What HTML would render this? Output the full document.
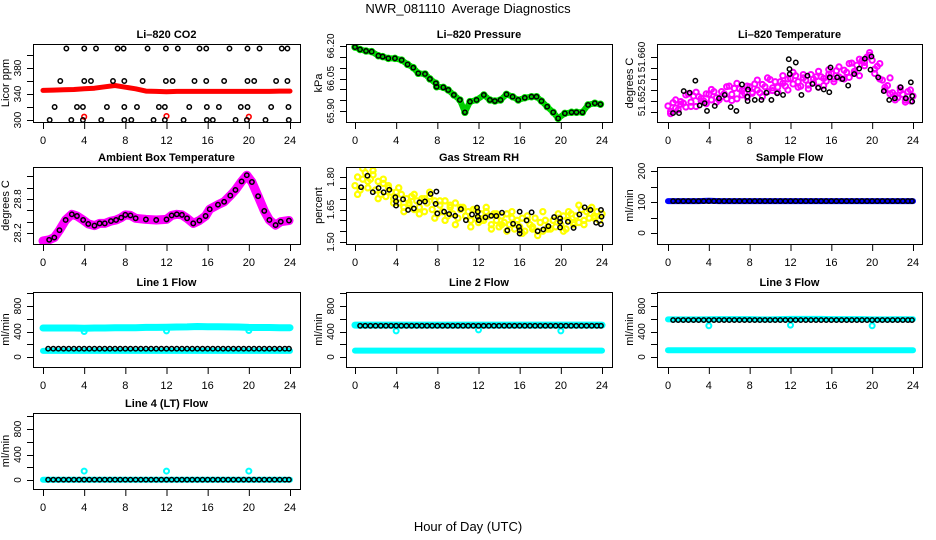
<!DOCTYPE html>
<html><head><meta charset="utf-8"><style>
html,body{margin:0;padding:0;background:#fff;}
svg{display:block;font-family:"Liberation Sans",Arial,sans-serif;}
</style></head><body>
<svg id="chart" width="936" height="540" viewBox="0 0 936 540" xmlns="http://www.w3.org/2000/svg">
<rect x="0" y="0" width="936" height="540" fill="#fff"/>
<text x="468" y="13" font-size="13" text-anchor="middle" style="white-space:pre">NWR_081110  Average Diagnostics</text>
<text x="468" y="531" font-size="13" text-anchor="middle">Hour of Day (UTC)</text>
</svg>
<script>
// ---------- data ----------
const xTicks = [0,4,8,12,16,20,24];

const co2TopHours = [2.27,4.01,5.15,7.25,7.83,10.16,11.94,13.1,15.21,15.86,18.12,19.87,21.04,23.2,23.75];
const co2TopVals = [410,410,410,410,410,410,410,410,410,410,410,410,410,410,410];
const co2MidHours = [1.68,4.01,4.66,6.8,7.9,9.68,11.94,12.59,14.72,15.86,17.6,19.87,20.52,22.65,23.75];
const co2MidVals = [360,360,360,360,360,360,360,360,360,360,360,360,360,360,360];
const co2LowHours = [1.13,3.3,3.88,6.21,7.9,9.13,11.26,11.84,14.21,15.92,17.09,19.22,19.87,22.17,23.85];
const co2LowVals = [320,320,320,320,320,320,320,320,320,320,320,320,320,320,320];
const co2BotHours = [0.65,2.75,3.88,5.66,7.9,8.58,10.74,11.84,13.66,15.92,16.5,18.71,19.81,21.62,23.88];
const co2BotVals = [300,300,300,300,300,300,300,300,300,300,300,300,300,300,300];
const co2RedHours = [0,1,2,3,4,5,6,7,8,9,10,11,12,13,14,15,16,17,18,19,20,21,22,23,24];
const co2RedVals = [345.5,346,346.5,347,348,349,351,353,350.5,348,344.5,344,343.5,344,344,344,344,344,344,344,344,344,344,344.5,344.5];
const co2RedDipHours = [4,12,20];
const co2RedDipVals = [305,306,305];

const presHours = [0,0.49,1.07,1.62,2.27,2.69,3.24,3.88,4.53,5.11,5.66,6.15,6.8,7.28,7.86,7.93,8.58,9.06,9.61,10.19,10.68,11.17,11.81,12.52,13.11,13.59,14.14,14.72,15.31,15.86,16.5,17.15,17.64,18.12,18.67,19.26,19.74,20.39,21.04,21.52,22.1,22.65,23.3,23.85];
const presVals = [66.195,66.184,66.177,66.174,66.155,66.151,66.143,66.143,66.135,66.115,66.100,66.074,66.071,66.048,66.028,66.012,66.009,65.997,65.974,65.951,65.894,65.943,65.951,65.974,65.951,65.946,65.951,65.977,65.966,65.951,65.961,65.966,65.966,65.946,65.920,65.894,65.866,65.889,65.894,65.894,65.894,65.928,65.936,65.931];

const tempMagHoursA = [0,0.25,0.5,0.75,1,1.25,1.5,1.75,2,2.25,2.5,2.75,3,3.25,3.5,3.75,4,4.25,4.5,4.75,5,5.25,5.5,5.75,6,6.25,6.5,6.75,7,7.25,7.5,7.75,8,8.25,8.5,8.75,9,9.25,9.5,9.75,10,10.25,10.5,10.75,11,11.25,11.5,11.75,12,12.25,12.5,12.75,13,13.25,13.5,13.75,14,14.25,14.5,14.75,15,15.25,15.5,15.75,16,16.25,16.5,16.75,17,17.25,17.5,17.75,18,18.25,18.5,18.75,19,19.25,19.5,19.75,20,20.25,20.5,20.75,21,21.25,21.5,21.75,22,22.25,22.5,22.75,23,23.25,23.5,23.75,24];
const tempMagValsA = [51.6511,51.6501,51.6517,51.6507,51.6504,51.6519,51.6516,51.6509,51.6533,51.6518,51.6529,51.6510,51.6528,51.6525,51.6520,51.6533,51.6532,51.6522,51.6537,51.6526,51.6522,51.6537,51.6533,51.6524,51.6547,51.6532,51.6543,51.6524,51.6542,51.6539,51.6534,51.6547,51.6546,51.6536,51.6551,51.6540,51.6535,51.6550,51.6546,51.6537,51.6559,51.6544,51.6555,51.6536,51.6555,51.6552,51.6547,51.6560,51.6561,51.6551,51.6566,51.6555,51.6547,51.6562,51.6558,51.6549,51.6568,51.6553,51.6564,51.6545,51.6564,51.6561,51.6556,51.6569,51.6570,51.6560,51.6575,51.6564,51.6561,51.6576,51.6572,51.6563,51.6589,51.6574,51.6585,51.6566,51.6593,51.6590,51.6600,51.6603,51.6594,51.6578,51.6583,51.6560,51.6558,51.6540,51.6548,51.6533,51.6535,51.6530,51.6526,51.6539,51.6532,51.6522,51.6537,51.6520,51.6529];
const tempMagHoursB = [0.25,0.75,1.25,1.75,2.25,2.75,3.25,3.75,4.25,4.75,5.25,5.75,6.25,6.75,7.25,7.75,8.25,8.75,9.25,9.75,10.25,10.75,11.25,11.75,12.25,12.75,13.25,13.75,14.25,14.75,15.25,15.75,16.25,16.75,17.25,17.75,18.25,18.75,19.25,19.75,20.25,20.75,21.25,21.75,22.25,22.75,23.25,23.75];
const tempMagValsB = [51.6497,51.6522,51.6514,51.6531,51.6510,51.6536,51.6520,51.6515,51.6541,51.6518,51.6528,51.6546,51.6521,51.6552,51.6531,51.6527,51.6534,51.6558,51.6528,51.6562,51.6539,51.6545,51.6566,51.6540,51.6572,51.6545,51.6568,51.6542,51.6560,51.6574,51.6548,51.6577,51.6555,51.6582,51.6560,51.6588,51.6570,51.6596,51.6584,51.6608,51.6570,51.6588,51.6545,51.6562,51.6522,51.6544,51.6518,51.6540];
const tempBlackHours = [0.49,1.08,1.54,2.12,2.68,3.10,3.59,3.82,4.58,5.0,5.56,6.14,6.7,7.25,7.84,7.78,7.8,8.5,9.15,9.64,10.13,10.69,11.27,11.83,11.9,11.93,12.52,13.07,13.66,14.15,14.71,15.26,15.85,15.92,15.8,16.57,17.09,17.65,18.24,18.73,19.28,19.84,19.93,20.59,21.14,21.67,22.22,22.78,23.3,23.79,23.92,23.92];
const tempBlackVals = [51.6498,51.6498,51.6538,51.6535,51.6557,51.6512,51.6516,51.6502,51.6511,51.6525,51.6531,51.6509,51.6502,51.6550,51.6541,51.6528,51.6520,51.6522,51.6522,51.6535,51.6522,51.6534,51.6531,51.6596,51.6578,51.6569,51.6590,51.6531,51.6566,51.6551,51.6544,51.6541,51.6563,51.6581,51.6536,51.6563,51.6560,51.6548,51.6569,51.6579,51.6597,51.6577,51.6601,51.6563,51.6538,51.6522,51.6525,51.6545,51.6525,51.6554,51.6529,51.6519];

const ambHours = [0,0.6,1.1,1.6,2.2,2.8,3.3,3.9,4.4,5.0,5.5,6.0,6.6,7.1,7.6,8.0,8.5,9,10,11,12,12.5,13,13.5,14,14.6,15.2,15.8,16.2,17,17.6,18.2,18.7,19.3,19.8,20.3,20.9,21.5,22,22.6,23.1,23.9];
const ambVals = [28.06,28.08,28.12,28.25,28.43,28.53,28.5,28.43,28.36,28.33,28.37,28.37,28.41,28.43,28.47,28.52,28.51,28.46,28.44,28.43,28.44,28.51,28.53,28.52,28.46,28.37,28.42,28.5,28.62,28.7,28.75,28.86,28.96,29.11,29.22,29.1,28.85,28.59,28.43,28.34,28.4,28.42];

const rhYelHoursA = tempMagHoursA;
const rhYelValsA = [1.76,1.80,1.74,1.79,1.82,1.75,1.79,1.81,1.74,1.78,1.72,1.77,1.71,1.76,1.73,1.70,1.73,1.68,1.72,1.66,1.70,1.67,1.71,1.65,1.69,1.66,1.70,1.64,1.68,1.71,1.65,1.69,1.63,1.67,1.64,1.69,1.62,1.66,1.63,1.68,1.61,1.65,1.66,1.62,1.64,1.60,1.65,1.61,1.59,1.63,1.60,1.64,1.62,1.58,1.63,1.60,1.57,1.62,1.59,1.63,1.58,1.61,1.56,1.60,1.57,1.61,1.55,1.60,1.58,1.56,1.61,1.55,1.59,1.55,1.60,1.57,1.56,1.60,1.57,1.61,1.58,1.62,1.56,1.60,1.63,1.58,1.62,1.59,1.65,1.60,1.64,1.61,1.66,1.61,1.64,1.60,1.63];
const rhYelHoursB = tempMagHoursB;
const rhYelValsB = [1.72,1.84,1.78,1.83,1.70,1.79,1.75,1.68,1.75,1.64,1.68,1.72,1.63,1.70,1.73,1.61,1.69,1.60,1.67,1.58,1.66,1.62,1.57,1.65,1.60,1.66,1.56,1.63,1.58,1.55,1.64,1.58,1.54,1.62,1.57,1.53,1.64,1.56,1.60,1.63,1.55,1.64,1.59,1.67,1.58,1.65,1.62,1.60];
const rhBlackHours = [0.59,1.21,1.73,2.29,2.78,3.33,3.92,3.99,3.99,4.67,5.16,5.72,6.27,6.8,7.35,7.91,7.84,8.0,8.66,9.15,9.74,10.29,10.78,11.37,11.86,11.93,11.93,12.03,12.68,13.24,13.73,14.28,14.8,15.36,15.92,16.0,16.0,16.0,16.67,17.16,17.75,18.3,18.79,19.35,19.93,19.93,19.93,20.69,21.24,21.8,22.32,22.88,23.43,23.9,23.9,23.95];
const rhBlackVals = [1.753,1.806,1.730,1.749,1.729,1.741,1.707,1.687,1.668,1.697,1.648,1.655,1.683,1.687,1.722,1.733,1.676,1.632,1.640,1.629,1.621,1.652,1.601,1.627,1.659,1.640,1.617,1.601,1.614,1.621,1.620,1.635,1.554,1.584,1.570,1.554,1.539,1.640,1.600,1.637,1.550,1.558,1.573,1.615,1.609,1.593,1.567,1.593,1.565,1.627,1.660,1.648,1.589,1.648,1.582,1.617];

const bandHours = [0,1,2,3,4,5,6,7,8,9,10,11,12,13,14,15,16,17,18,19,20,21,22,23,24];
const sampleBlue = [103,103,103,103,104,103,103,103,103,103,103,103,103,103,103,103,103,103,103,103,103,103,103,103,103];
const flowHours = [0.5,1,1.5,2,2.5,3,3.5,4,4.5,5,5.5,6,6.5,7,7.5,8,8.5,9,9.5,10,10.5,11,11.5,12,12.5,13,13.5,14,14.5,15,15.5,16,16.5,17,17.5,18,18.5,19,19.5,20,20.5,21,21.5,22,22.5,23,23.5,23.9];
const sampleBlack = [103,103,103,103,103,103,103,103,103,103,103,103,103,103,103,103,103,103,103,103,103,103,103,103,103,103,103,103,103,103,103,103,103,103,103,103,103,103,103,103,103,103,103,103,103,103,103,103];

const line1Upper = [455,455,455,455,452,455,455,458,458,460,465,465,468,470,472,478,475,475,472,470,465,463,462,460,460];
const line1Lower = [95,95,95,95,95,95,95,95,95,95,95,95,95,95,95,95,95,95,95,95,95,95,95,95,95];
const line1Black = [130,130,130,130,130,130,130,130,130,130,130,130,130,130,130,130,130,130,130,130,130,130,130,130,130,130,130,130,130,130,130,130,130,130,130,130,130,130,130,130,130,130,130,130,130,130,130,130];
const dipHours = [4,12,20];
const line1Dips = [400,410,415];

const line2Upper = [500,500,500,500,500,500,500,500,500,500,500,500,500,500,500,500,500,500,500,500,500,500,500,500,500];
const line2Lower = [100,100,100,100,100,100,100,100,100,100,100,100,100,100,100,100,100,100,100,100,100,100,100,100,100];
const line2Black = [490,490,490,490,490,490,490,490,490,490,490,490,490,490,490,490,490,490,490,490,490,490,490,490,490,490,490,490,490,490,490,490,490,490,490,490,490,490,490,490,490,490,490,490,490,490,490,490];
const line2Dips = [410,425,410];

const line3Upper = [590,590,590,590,592,595,595,595,595,590,590,595,598,598,598,598,595,595,595,595,590,590,592,592,592];
const line3Lower = [105,105,105,105,105,105,105,105,105,105,105,105,105,105,105,105,105,105,105,105,105,105,105,105,105];
const line3Black = [580,580,580,580,580,580,580,580,580,580,580,580,580,580,580,580,580,580,580,580,580,580,580,580,580,580,580,580,580,580,580,580,580,580,580,580,580,580,580,580,580,580,580,580,580,580,580,580];
const line3Dips = [490,500,490];

const line4Cyan = [5,5,5,5,5,5,5,5,5,5,5,5,5,5,5,5,5,5,5,5,5,5,5,5,5];
const line4Black = [5,5,5,5,5,5,5,5,5,5,5,5,5,5,5,5,5,5,5,5,5,5,5,5,5,5,5,5,5,5,5,5,5,5,5,5,5,5,5,5,5,5,5,5,5,5,5,5];
const line4Dips = [140,140,140];

const co2Ticks = [300,320,340,360,380,400];
const co2Labels = ["300","","340","","380",""];
const presTicks = [65.90,65.95,66.00,66.05,66.10,66.15,66.20];
const presLabels = ["65.90","","","66.05","","","66.20"];
const tempTicks = [51.650,51.652,51.654,51.656,51.658,51.660];
const tempLabels = ["","51.652","","51","","51.660"];
const ambTicks = [28.2,28.4,28.6,28.8,29.0,29.2];
const ambLabels = ["28.2","","","28.8","",""];
const rhTicks = [1.50,1.55,1.60,1.65,1.70,1.75,1.80];
const rhLabels = ["1.50","","","1.65","","","1.80"];
const sampleTicks = [0,50,100,150,200];
const sampleLabels = ["0","","100","","200"];
const flowTicks = [0,200,400,600,800,1000];
const flowLabels = ["0","","400","","800",""];

// ---------- layout ----------
const svg = document.getElementById('chart');
const NS = 'http://www.w3.org/2000/svg';
const cols = [{l:33,r:300,x0:43,x24:290},{l:346,r:612,x0:355,x24:602},{l:657,r:922,x0:668,x24:913}];
const rows = [{t:44,b:122},{t:167,b:244},{t:292,b:367},{t:413,b:489}];

function mk(tag, attrs, parent){
  const e = document.createElementNS(NS, tag);
  for (const k in attrs) e.setAttribute(k, attrs[k]);
  (parent||svg).appendChild(e);
  return e;
}

function panel(name, title, ytitle, ci, ri, v1, p1, v2, p2, ticks, labels){
  const c = cols[ci], r = rows[ri];
  const g = mk('g', {});
  
  
  const clip = mk('clipPath', {id:'clip-'+name}, g);
  mk('rect', {x:c.l, y:r.t, width:c.r-c.l, height:r.b-r.t}, clip);
  const P = {g:g, c:c, r:r,
    x: h => c.x0 + (c.x24 - c.x0) * h / 24,
    y: v => p1 + (v - v1) * (p2 - p1) / (v2 - v1)};
  P.plot = mk('g', {'clip-path':'url(#clip-'+name+')'}, g);
  const box = mk('rect', {x:c.l+0.5, y:r.t+0.5, width:c.r-c.l, height:r.b-r.t, fill:'none', stroke:'#000', 'stroke-width':1}, g);
  
  
  const tt = mk('text', {x:(c.l+c.r)/2, y:r.t-6, 'font-size':11, 'font-weight':'bold', 'text-anchor':'middle'}, g);
  tt.textContent = title;
  
  
  const xa = mk('g', {}, g);
  
  
  mk('line', {x1:P.x(0), x2:P.x(24), y1:r.b+0.5, y2:r.b+0.5, stroke:'#000'}, xa);
  xTicks.forEach(t => {
    mk('line', {x1:P.x(t)+0.5, x2:P.x(t)+0.5, y1:r.b, y2:r.b+7, stroke:'#000'}, xa);
    const lt = mk('text', {x:P.x(t), y:r.b+22, 'font-size':11, 'text-anchor':'middle'}, xa);
    lt.textContent = t;
  });
  const ya = mk('g', {}, g);
  
  
  mk('line', {x1:c.l+0.5, x2:c.l+0.5, y1:P.y(ticks[0]), y2:P.y(ticks[ticks.length-1]), stroke:'#000'}, ya);
  ticks.forEach((t,i) => {
    const yy = Math.round(P.y(t))+0.5;
    mk('line', {x1:c.l-6, x2:c.l, y1:yy, y2:yy, stroke:'#000'}, ya);
    if (labels[i]) {
      const lx = c.l-12, ly = P.y(t);
      const lt = mk('text', {x:lx, y:ly, 'font-size':10, 'text-anchor':'middle', transform:'rotate(-90 '+lx+' '+ly+')'}, ya);
      lt.textContent = labels[i];
    }
  });
  const tx = c.l-24, ty = (r.t+r.b)/2;
  const yt = mk('text', {x:tx, y:ty, 'font-size':11, 'text-anchor':'middle', transform:'rotate(-90 '+tx+' '+ty+')'}, g);
  yt.textContent = ytitle;
  
  
  return P;
}

function pts(P, name, hours, vals, color, rad, sw){
  const g = mk('g', {fill:'none', stroke:color, 'stroke-width':sw}, P.plot);
  
  
  hours.forEach((h,i) => {
    const c = mk('circle', {cx:P.x(h), cy:P.y(vals[i]), r:rad}, g);
    
    
  });
}
function band(P, name, hours, vals, color, w){
  const d = hours.map((h,i) => (i?'L':'M')+P.x(h).toFixed(1)+','+P.y(vals[i]).toFixed(1)).join(' ');
  const p = mk('path', {d:d, fill:'none', stroke:color, 'stroke-width':w, 'stroke-linecap':'round', 'stroke-linejoin':'round'}, P.plot);
  
  
}

let P = panel('co2-panel','Li\u2013820 CO2','Licor ppm',0,0,300,120,380,68,co2Ticks,co2Labels);
band(P,'co2-red-band',co2RedHours,co2RedVals,'#ff0000',5);
pts(P,'co2-red-dips',co2RedDipHours,co2RedDipVals,'#ff0000',2.3,1.6);
pts(P,'co2-black-410',co2TopHours,co2TopVals,'#000',2.2,1.5);
pts(P,'co2-black-360',co2MidHours,co2MidVals,'#000',2.2,1.5);
pts(P,'co2-black-320',co2LowHours,co2LowVals,'#000',2.2,1.5);
pts(P,'co2-black-300',co2BotHours,co2BotVals,'#000',2.2,1.5);

P = panel('pressure-panel','Li\u2013820 Pressure','kPa',1,0,65.90,111,66.20,46,presTicks,presLabels);
band(P,'pressure-green-band',presHours,presVals,'#00cc00',6);
pts(P,'pressure-green-points',presHours,presVals,'#00ee00',3,1.5);
pts(P,'pressure-black-points',presHours,presVals,'#000',2.2,1.5);

P = panel('temperature-panel','Li\u2013820 Temperature','degrees C',2,0,51.652,101,51.660,57,tempTicks,tempLabels);
pts(P,'temperature-magenta-a',tempMagHoursA,tempMagValsA,'#ff00ff',2.6,2);
pts(P,'temperature-magenta-b',tempMagHoursB,tempMagValsB,'#ff00ff',2.6,2);
pts(P,'temperature-black',tempBlackHours,tempBlackVals,'#000',2.2,1.5);

P = panel('ambient-panel','Ambient Box Temperature','degrees C',0,1,28.2,233,28.8,199,ambTicks,ambLabels);
band(P,'ambient-magenta-band',ambHours,ambVals,'#ff00ff',9);
pts(P,'ambient-black',ambHours.slice(1),ambVals.slice(1),'#000',2.2,1.5);

P = panel('rh-panel','Gas Stream RH','percent',1,1,1.50,242,1.80,177,rhTicks,rhLabels);
pts(P,'rh-yellow-a',rhYelHoursA,rhYelValsA,'#ffff00',2.6,2.2);
pts(P,'rh-yellow-b',rhYelHoursB,rhYelValsB,'#ffff00',2.6,2.2);
pts(P,'rh-black',rhBlackHours,rhBlackVals,'#000',2.2,1.5);

P = panel('sample-flow-panel','Sample Flow','ml/min',2,1,0,233,200,171,sampleTicks,sampleLabels);
band(P,'sample-blue-band',bandHours,sampleBlue,'#0000ff',6);
pts(P,'sample-black',flowHours,sampleBlack,'#000',2.2,1.5);

P = panel('line1-panel','Line 1 Flow','ml/min',0,2,0,357,800,306,flowTicks,flowLabels);
band(P,'line1-cyan-upper',bandHours,line1Upper,'#00ffff',7);
band(P,'line1-cyan-lower',bandHours,line1Lower,'#00ffff',6);
pts(P,'line1-cyan-dips',dipHours,line1Dips,'#00ffff',2.5,2);
pts(P,'line1-black',flowHours,line1Black,'#000',2.2,1.5);

P = panel('line2-panel','Line 2 Flow','ml/min',1,2,0,357,800,306,flowTicks,flowLabels);
band(P,'line2-cyan-upper',bandHours,line2Upper,'#00ffff',7);
band(P,'line2-cyan-lower',bandHours,line2Lower,'#00ffff',6);
pts(P,'line2-cyan-dips',dipHours,line2Dips,'#00ffff',2.5,2);
pts(P,'line2-black',flowHours,line2Black,'#000',2.2,1.5);

P = panel('line3-panel','Line 3 Flow','ml/min',2,2,0,357,800,306,flowTicks,flowLabels);
band(P,'line3-cyan-upper',bandHours,line3Upper,'#00ffff',6);
band(P,'line3-cyan-lower',bandHours,line3Lower,'#00ffff',6);
pts(P,'line3-cyan-dips',dipHours,line3Dips,'#00ffff',2.5,2);
pts(P,'line3-black',flowHours,line3Black,'#000',2.2,1.5);

P = panel('line4-panel','Line 4 (LT) Flow','ml/min',0,3,0,480,800,429,flowTicks,flowLabels);
band(P,'line4-cyan-band',bandHours,line4Cyan,'#00ffff',6);
pts(P,'line4-cyan-dips',dipHours,line4Dips,'#00ffff',2.5,2);
pts(P,'line4-black',flowHours,line4Black,'#000',2.2,1.5);
</script>
</body></html>
